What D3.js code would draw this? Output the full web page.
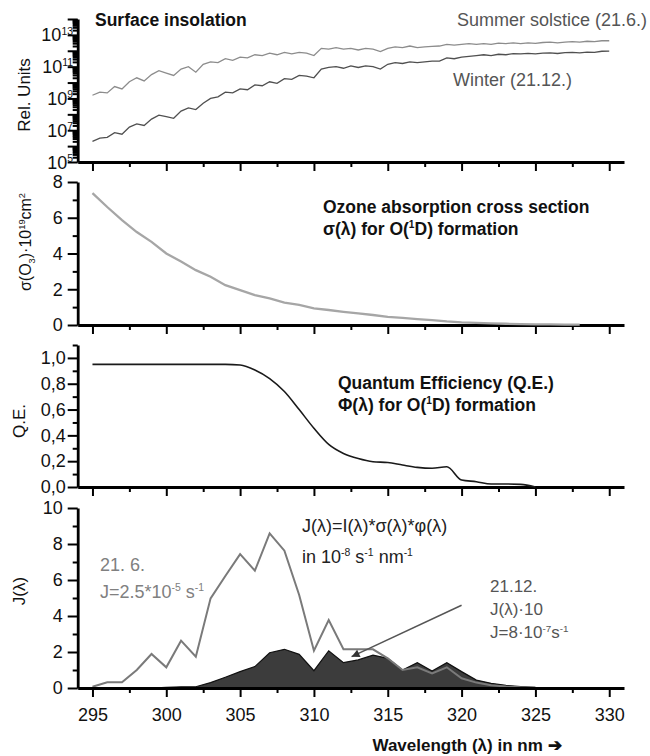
<!DOCTYPE html>
<html>
<head>
<meta charset="utf-8">
<script src="https://cdn.jsdelivr.net/npm/d3@7"></script>
<style>
body { margin: 0; background: #fff; }
svg text { font-family: "Liberation Sans", Arial, sans-serif; }
</style>
</head>
<body>
<svg id="chart" width="650" height="756"></svg>
<script>
// ---------------- data ----------------
// surface insolation, log10 of rel. units, 295..330 nm every 0.5 nm
const insolWl = d3.range(295, 330.01, 0.5)
const summerLog = [
  9.2, 9.4, 9.35, 9.75, 9.6, 10.05, 10.3, 10.1, 10.5, 10.75,
  10.6, 10.45, 10.85, 11.0, 10.65, 11.15, 11.3, 11.25, 11.5, 11.4,
  11.6, 11.55, 11.75, 11.7, 11.85, 11.75, 11.9, 11.8, 11.9, 11.85,
  11.7, 12.15, 12.1, 12.2, 12.1, 12.15, 12.05, 12.15, 12.1, 11.95,
  12.15, 12.25, 12.2, 12.3, 12.2, 12.25, 12.28, 12.3, 12.4, 12.35,
  12.4, 12.45, 12.4, 12.45, 12.4, 12.48, 12.45, 12.5, 12.45, 12.5,
  12.47, 12.52, 12.55, 12.5, 12.55, 12.58, 12.55, 12.6, 12.58, 12.63,
  12.63
]
const winterLog = [
  6.3, 6.5, 6.55, 6.85, 6.75, 7.2, 7.4, 7.3, 7.7, 7.95,
  7.85, 7.75, 8.2, 8.4, 8.3, 8.7, 9.0, 9.1, 9.4, 9.35,
  9.6, 9.55, 9.85, 9.8, 10.05, 9.95, 10.25, 10.2, 10.45, 10.4,
  10.3, 10.85, 10.95, 11.0, 10.9, 11.05, 10.95, 11.05, 11.0, 10.85,
  11.15, 11.25, 11.2, 11.3, 11.25, 11.3, 11.35, 11.35, 11.55, 11.5,
  11.6, 11.65, 11.7, 11.75, 11.7, 11.78, 11.75, 11.82, 11.8, 11.84,
  11.8, 11.85, 11.87, 11.83, 11.88, 11.9, 11.87, 11.92, 11.9, 11.97,
  11.98
]

// ozone cross section (1e-19 cm2), 295..328 nm
const sigmaWl = d3.range(295, 329, 1)
const sigma = [7.38, 6.6, 5.87, 5.2, 4.65, 4.0, 3.55, 3.07, 2.7, 2.23,
  1.95, 1.67, 1.49, 1.25, 1.12, 0.93, 0.84, 0.74, 0.65, 0.56,
  0.46, 0.4, 0.33, 0.27, 0.2, 0.15, 0.12, 0.09, 0.07, 0.05,
  0.04, 0.03, 0.02, 0.02]

// quantum efficiency, 295..325 nm
const qeWl = d3.range(295, 326, 1)
const qe = [0.95, 0.95, 0.95, 0.95, 0.95, 0.95, 0.95, 0.95, 0.95, 0.95,
  0.945, 0.907, 0.84, 0.74, 0.6, 0.455, 0.33, 0.26, 0.22, 0.196,
  0.19, 0.17, 0.152, 0.145, 0.157, 0.054, 0.041, 0.023, 0.023, 0.02, 0.0]

// photolysis frequency J (1e-8 s-1 nm-1)
const jSummerWl = d3.range(295, 326, 1)
const jSummer = [0.07, 0.32, 0.32, 1.0, 1.89, 1.15, 2.63, 1.74, 4.98, 6.22,
  7.44, 6.52, 8.59, 7.63, 5.17, 2.07, 3.78, 2.15, 2.15, 2.15,
  1.65, 1.0, 1.15, 0.81, 1.15, 0.54, 0.3, 0.15, 0.08, 0.04, 0.02]
const jWinterWl = d3.range(295, 328, 1)
const jWinter10 = [0, 0, 0, 0, 0, 0.03, 0.07, 0.07, 0.3, 0.6,
  0.91, 1.19, 1.96, 2.15, 1.87, 0.96, 2.07, 1.41, 1.56, 1.83,
  1.65, 1.0, 1.41, 0.94, 1.41, 0.91, 0.44, 0.26, 0.15, 0.08,
  0.04, 0.02, 0]

const xMajor = [295, 300, 305, 310, 315, 320, 325, 330]
const xMinor = [297.5, 302.5, 307.5, 312.5, 317.5, 322.5, 327.5]

// ---------------- layout ----------------
const svg = d3.select('#chart')
const FONT = 18

const x = d3.scaleLinear().domain([294, 331]).range([77.7, 624])

const yI = d3.scaleLog().domain([1e5, 1e14]).range([162, 19])
const yS = d3.scaleLinear().domain([0, 8]).range([325, 182])
const yQ = d3.scaleLinear().domain([0, 1.1]).range([487, 345])
const yJ = d3.scaleLinear().domain([0, 10]).range([688, 508])

// text with sub/superscripts: parts = [[string, 'n'|'sup'|'sub'], ...]
const rich = (g, px, py, parts, o = {}) => {
  const size = o.size || FONT
  const t = g.append('text')
    .attr('font-size', size)
    .attr('fill', o.fill || '#111')
    .attr('font-weight', o.weight || 'normal')
    .attr('text-anchor', o.anchor || 'start')
  if (o.rotate) t.attr('transform', `translate(${px},${py}) rotate(-90)`)
  else t.attr('x', px).attr('y', py)
  let shift = 0
  parts.forEach(([s, k]) => {
    const target = k === 'sup' ? -0.38 * size : k === 'sub' ? 0.25 * size : 0
    const sp = t.append('tspan').attr('dy', target - shift).text(s)
    if (k !== 'n') sp.attr('font-size', size * 0.58)
    shift = target
  })
  return t
}

const styleAxis = (g) => {
  g.select('.domain').attr('stroke', '#000').attr('stroke-width', 2.8)
  g.selectAll('.tick line').attr('stroke', '#000').attr('stroke-width', 2)
  g.selectAll('.tick text').attr('font-size', FONT).attr('fill', '#111')
}

const xAxis = (yPos, labels) => {
  const g = svg.append('g').attr('transform', `translate(0,${yPos})`)
  g.append('g')
    .call(d3.axisBottom(x).tickValues(xMinor).tickSize(5).tickFormat(''))
    .call(a => a.select('.domain').remove())
    .call(styleAxis)
  g.append('g')
    .call(d3.axisBottom(x).tickValues(xMajor).tickSize(9).tickSizeOuter(0)
      .tickPadding(11).tickFormat(labels ? d3.format('d') : ''))
    .call(styleAxis)
}

const yAxis = (scale, major, minor, fmt, pad) => {
  const g = svg.append('g').attr('transform', `translate(${x.range()[0]},0)`)
  g.append('g')
    .call(d3.axisLeft(scale).tickValues(minor).tickSize(5).tickFormat(''))
    .call(a => a.select('.domain').remove())
    .call(styleAxis)
  g.append('g')
    .call(d3.axisLeft(scale).tickValues(major).tickSize(10).tickSizeOuter(0)
      .tickPadding(pad).tickFormat(fmt))
    .call(styleAxis)
}

// ---------------- panel 1: surface insolation ----------------
const decades = d3.range(5, 15)
const logMinor = []
decades.slice(0, -1).forEach(e => { for (let m = 2; m <= 9; m++) logMinor.push(m * 10 ** e) })
yAxis(yI, decades.map(e => 10 ** e), logMinor, '', 0)
;[5, 7, 9, 11, 13].forEach(e => {
  rich(svg, 73, yI(10 ** e) + 6.5, [['10', 'n'], [String(e), 'sup']], { anchor: 'end' })
})
xAxis(162, false)

const insolLine = d3.line().x(d => x(d[0])).y(d => yI(10 ** d[1]))
svg.append('path')
  .datum(insolWl.map((w, i) => [w, summerLog[i]]))
  .attr('d', insolLine).attr('fill', 'none')
  .attr('stroke', '#8c8c8c').attr('stroke-width', 1.3)
svg.append('path')
  .datum(insolWl.map((w, i) => [w, winterLog[i]]))
  .attr('d', insolLine).attr('fill', 'none')
  .attr('stroke', '#505050').attr('stroke-width', 1.3)

rich(svg, 95, 26, [['Surface insolation', 'n']], { weight: 'bold', size: 17.5 })
rich(svg, 457, 26, [['Summer solstice (21.6.)', 'n']], { fill: '#555' })
rich(svg, 453, 86, [['Winter (21.12.)', 'n']], { fill: '#555' })
rich(svg, 30, 95, [['Rel. Units', 'n']], { rotate: true, anchor: 'middle', size: 17 })

// ---------------- panel 2: ozone cross section ----------------
yAxis(yS, [0, 2, 4, 6, 8], [1, 3, 5, 7], d3.format('d'), 5)
xAxis(325, false)
svg.append('path')
  .datum(sigmaWl.map((w, i) => [w, sigma[i]]))
  .attr('d', d3.line().x(d => x(d[0])).y(d => yS(d[1])))
  .attr('fill', 'none').attr('stroke', '#a6a6a6').attr('stroke-width', 2.3)

rich(svg, 323, 213, [['Ozone absorption cross section', 'n']], { weight: 'bold', size: 17.5 })
rich(svg, 323, 235, [['σ(λ) for O(', 'n'], ['1', 'sup'], ['D) formation', 'n']], { weight: 'bold', size: 17.5 })
rich(svg, 31, 242, [['σ(O', 'n'], ['3', 'sub'], [')·10', 'n'], ['19', 'sup'], ['cm', 'n'], ['2', 'sup']],
  { rotate: true, anchor: 'middle', size: 16 })

// ---------------- panel 3: quantum efficiency ----------------
yAxis(yQ, [0, 0.2, 0.4, 0.6, 0.8, 1.0], [0.1, 0.3, 0.5, 0.7, 0.9, 1.1],
  d => d3.format('.1f')(d).replace('.', ','), 2)
xAxis(487, false)
svg.append('path')
  .datum(qeWl.map((w, i) => [w, qe[i]]))
  .attr('d', d3.line().curve(d3.curveMonotoneX).x(d => x(d[0])).y(d => yQ(d[1])))
  .attr('fill', 'none').attr('stroke', '#1a1a1a').attr('stroke-width', 1.6)

rich(svg, 338, 389, [['Quantum Efficiency (Q.E.)', 'n']], { weight: 'bold', size: 17.5 })
rich(svg, 338, 411, [['Φ(λ) for O(', 'n'], ['1', 'sup'], ['D) formation', 'n']], { weight: 'bold', size: 17.5 })
rich(svg, 25, 421, [['Q.E.', 'n']], { rotate: true, anchor: 'middle', size: 17 })

// ---------------- panel 4: J ----------------
svg.append('path')
  .datum(jWinterWl.map((w, i) => [w, jWinter10[i]]))
  .attr('d', d3.area().x(d => x(d[0])).y0(yJ(0)).y1(d => yJ(d[1])))
  .attr('fill', '#3c3c3c').attr('stroke', '#111').attr('stroke-width', 1.2)
svg.append('path')
  .datum(jSummerWl.map((w, i) => [w, jSummer[i]]))
  .attr('d', d3.line().x(d => x(d[0])).y(d => yJ(d[1])))
  .attr('fill', 'none').attr('stroke', '#7a7a7a').attr('stroke-width', 2)

yAxis(yJ, [0, 2, 4, 6, 8, 10], [1, 3, 5, 7, 9], d3.format('d'), 5)
xAxis(688, true)

svg.append('defs').append('marker')
  .attr('id', 'head').attr('viewBox', '0 0 10 10')
  .attr('refX', 10).attr('refY', 5)
  .attr('markerWidth', 14).attr('markerHeight', 8)
  .attr('markerUnits', 'userSpaceOnUse').attr('orient', 'auto')
  .append('path').attr('d', 'M0,0L10,5L0,10Z').attr('fill', '#333')
svg.append('line')
  .attr('x1', x(320)).attr('y1', yJ(4.6))
  .attr('x2', x(312.55)).attr('y2', yJ(1.74))
  .attr('stroke', '#555').attr('stroke-width', 1.5)
  .attr('marker-end', 'url(#head)')

rich(svg, 302, 532, [['J(λ)=I(λ)*σ(λ)*φ(λ)', 'n']], { fill: '#222' })
rich(svg, 302, 563, [['in 10', 'n'], ['-8', 'sup'], [' s', 'n'], ['-1', 'sup'], [' nm', 'n'], ['-1', 'sup']], { fill: '#222' })
rich(svg, 100, 571, [['21. 6.', 'n']], { fill: '#808080' })
rich(svg, 100, 598, [['J=2.5*10', 'n'], ['-5', 'sup'], [' s', 'n'], ['-1', 'sup']], { fill: '#808080' })
rich(svg, 490, 592, [['21.12.', 'n']], { fill: '#555', size: 17 })
rich(svg, 490, 615, [['J(λ)·10', 'n']], { fill: '#555', size: 17 })
rich(svg, 490, 638, [['J=8·10', 'n'], ['-7', 'sup'], ['s', 'n'], ['-1', 'sup']], { fill: '#555', size: 17 })
rich(svg, 25, 591, [['J(λ)', 'n']], { rotate: true, anchor: 'middle', size: 17 })

rich(svg, 467, 751, [['Wavelength (λ) in nm ', 'n'], ['➔', 'n']], { weight: 'bold', anchor: 'middle', size: 17 })
</script>
</body>
</html>
